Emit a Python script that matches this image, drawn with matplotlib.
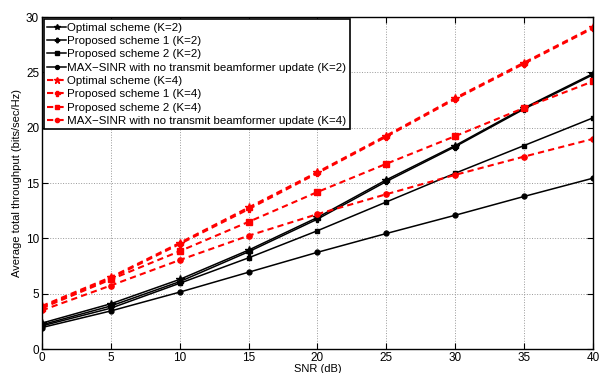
import matplotlib
matplotlib.use('Agg')
import matplotlib.pyplot as plt

plt.rcParams['font.family'] = ['Liberation Sans', 'DejaVu Sans']

# data
snr = [0, 5, 10, 15, 20, 25, 30, 35, 40]

opt_k2  = [2.35, 4.1, 6.3, 8.95, 11.9, 15.3, 18.4, 21.8, 24.9]
prop1_k2 = [2.2, 3.9, 6.1, 8.8, 11.75, 15.15, 18.3, 21.7, 24.8]
prop2_k2 = [2.1, 3.7, 5.95, 8.25, 10.7, 13.3, 15.9, 18.4, 20.9]
maxs_k2 = [1.95, 3.45, 5.15, 6.95, 8.75, 10.45, 12.1, 13.8, 15.45]

opt_k4  = [3.9, 6.5, 9.6, 12.8, 16.0, 19.3, 22.7, 25.9, 29.1]
prop1_k4 = [3.8, 6.4, 9.5, 12.65, 15.9, 19.2, 22.6, 25.8, 29.0]
prop2_k4 = [3.7, 6.3, 8.85, 11.5, 14.2, 16.75, 19.25, 21.8, 24.2]
maxs_k4 = [3.5, 5.75, 8.05, 10.25, 12.2, 14.0, 15.75, 17.4, 19.0]

labels = ['Optimal scheme (K=2)', 'Proposed scheme 1 (K=2)', 'Proposed scheme 2 (K=2)',
          'MAX\u2212SINR with no transmit beamformer update (K=2)',
          'Optimal scheme (K=4)', 'Proposed scheme 1 (K=4)', 'Proposed scheme 2 (K=4)',
          'MAX\u2212SINR with no transmit beamformer update (K=4)']

fig = plt.figure(figsize=(6.07, 3.73), dpi=100)
ax = fig.add_axes([0.069, 0.064, 0.908, 0.89])

k2 = [(opt_k2, '*', 5.5), (prop1_k2, 'P', 4), (prop2_k2, 's', 3.5), (maxs_k2, 'o', 3.5)]
k4 = [(opt_k4, '*', 6), (prop1_k4, 'P', 4.5), (prop2_k4, 's', 3.8), (maxs_k4, 'o', 3.8)]

i = 0
for vals, mk, ms in k2:
  ax.plot(snr, vals, color='k', ls='-', lw=1.1, marker=mk, ms=ms, label=labels[i])
  i += 1
for vals, mk, ms in k4:
  ax.plot(snr, vals, color='r', ls='--', lw=1.5, marker=mk, ms=ms, label=labels[i],
          dashes=(3, 2))
  i += 1

ax.set_xlim(0, 40)
ax.set_ylim(0, 30)
ax.set_xticks(snr)
ax.set_yticks(range(0, 31, 5))
ax.grid(True, ls=':', color='#999999', lw=0.7)
ax.tick_params(direction='in', top=True, right=True, labelsize=8.5, length=4, pad=2)
for s in ax.spines.values():
  s.set_linewidth(1.0)
ax.set_xlabel('SNR (dB)', fontsize=8, labelpad=0)
ax.set_ylabel('Average total throughput (bits/sec/Hz)', fontsize=8, labelpad=3)

leg = ax.legend(loc='upper left', fontsize=8.25, frameon=True, fancybox=False,
                edgecolor='k', framealpha=1, handlelength=1.65, handletextpad=0.1,
                labelspacing=0.29, borderpad=0.3, borderaxespad=0.17,
                markerscale=0.8)
leg.get_frame().set_linewidth(1.2)

fig.savefig('out.png', dpi=100)
